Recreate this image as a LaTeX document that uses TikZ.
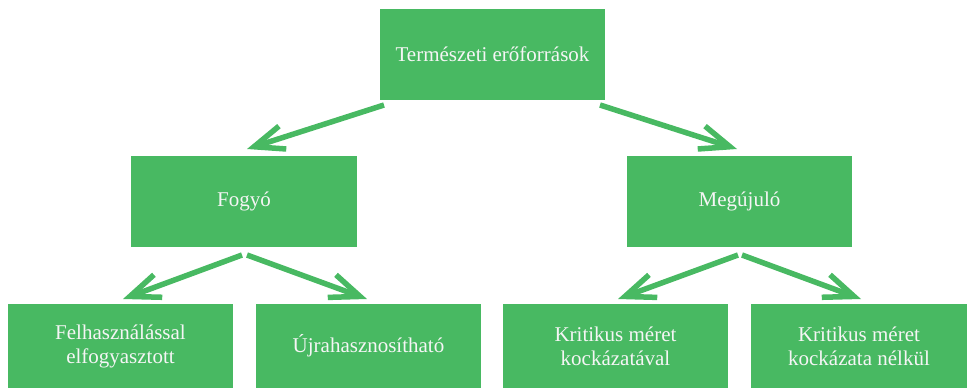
\documentclass[tikz,border=0pt]{standalone}
\usepackage{fontspec}
\setmainfont{Liberation Serif}
\usetikzlibrary{arrows.meta}
\definecolor{boxgreen}{RGB}{72,185,98}
\definecolor{boxtext}{RGB}{245,245,245}
\tikzset{
  gbox/.style={fill=boxgreen, draw=none, inner sep=0pt, align=center,
    text=boxtext, font=\fontsize{21}{24}\selectfont},
  conn/.style={draw=boxgreen, line width=5.5pt,
    -{Straight Barb[length=30pt,width=24pt,line width=5.5pt]}}
}
\begin{document}
\begin{tikzpicture}[x=1pt,y=-1pt]
\useasboundingbox (0,0) rectangle (967,389);
\node[gbox, minimum width=225pt, minimum height=91pt] (top) at (492.5,54.5) {Természeti erőforrások};
\node[gbox, minimum width=226pt, minimum height=91pt] (fogy) at (244,201.5) {Fogyó};
\node[gbox, minimum width=225pt, minimum height=91pt] (megu) at (739.5,201.5) {Megújuló};
\node[gbox, minimum width=225pt, minimum height=84pt] (felh) at (120.5,346) {Felhasználással\\elfogyasztott};
\node[gbox, minimum width=225pt, minimum height=84pt] (ujra) at (368.5,346) {Újrahasznosítható};
\node[gbox, minimum width=225pt, minimum height=84pt] (krit) at (615.5,346) {Kritikus méret\\kockázatával};
\node[gbox, minimum width=216pt, minimum height=84pt] (kritn) at (859,346) {Kritikus méret\\kockázata nélkül};
% connector end points
\coordinate (t1) at (384,105);
\coordinate (t1e) at (247,149);
\coordinate (t2) at (600,105);
\coordinate (t2e) at (737,149);
\coordinate (f1) at (242,255);
\coordinate (f1e) at (123,299);
\coordinate (f2) at (247,255);
\coordinate (f2e) at (367,299);
\coordinate (m1) at (738,255);
\coordinate (m1e) at (618,299);
\coordinate (m2) at (742,255);
\coordinate (m2e) at (861,299);
\draw[conn] (t1) -- (t1e);
\draw[conn] (t2) -- (t2e);
\draw[conn] (f1) -- (f1e);
\draw[conn] (f2) -- (f2e);
\draw[conn] (m1) -- (m1e);
\draw[conn] (m2) -- (m2e);
\end{tikzpicture}
\end{document}
